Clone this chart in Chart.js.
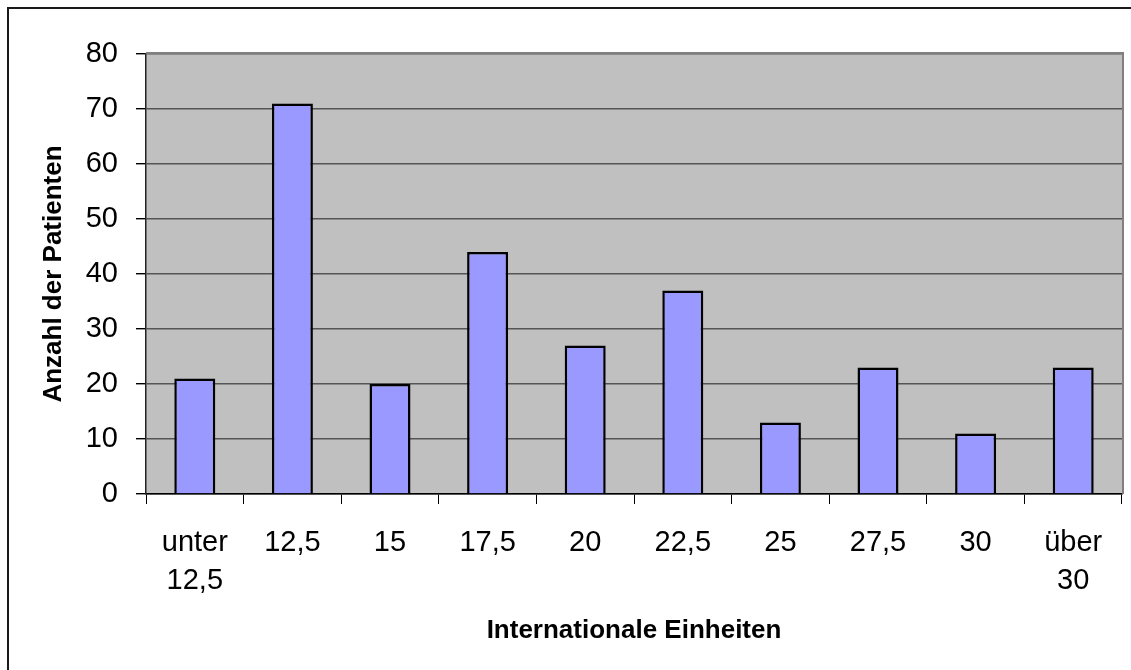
<!DOCTYPE html>
<html>
<head>
<meta charset="utf-8">
<script src="https://cdn.jsdelivr.net/npm/chart.js@4/dist/chart.umd.min.js"></script>
<style>
  html, body { margin: 0; padding: 0; background: #ffffff; }
  #wrap { position: relative; width: 1131px; height: 670px; overflow: hidden; }
  canvas { display: block; }
</style>
</head>
<body>
<div id="wrap"><canvas id="chart" width="1131" height="670"></canvas></div>
<script>
// Dosage classes (international units) and number of patients per class
const categories = [
  ['unter', '12,5'], '12,5', '15', '17,5', '20', '22,5', '25', '27,5', '30', ['über', '30']
];
const patients = [21, 71, 20, 44, 27, 37, 13, 23, 11, 23];
const yTicks = { min: 0, max: 80, step: 10 };

const FONT = "'Liberation Sans', Arial, sans-serif";

// Page frame, grey plot background and grey plot border
const frame = {
  id: 'frame',
  beforeDraw(chart) {
    const { ctx, chartArea: a } = chart;
    ctx.save();
    ctx.fillStyle = '#ffffff';
    ctx.fillRect(0, 0, chart.width, chart.height);
    ctx.strokeStyle = '#1a1a1a';
    ctx.lineWidth = 2;
    ctx.strokeRect(8, 8, chart.width + 100, chart.height + 100);
    ctx.fillStyle = '#c0c0c0';
    ctx.fillRect(a.left, a.top, a.right - a.left, a.bottom - a.top);
    ctx.restore();
  },
  beforeDatasetsDraw(chart) {
    const { ctx, chartArea: a } = chart;
    ctx.save();
    ctx.strokeStyle = '#808080';
    ctx.lineWidth = 2;
    ctx.beginPath();
    ctx.moveTo(a.left, a.top - 1);
    ctx.lineTo(a.right + 1, a.top - 1);
    ctx.lineTo(a.right + 1, a.bottom);
    ctx.stroke();
    ctx.restore();
  }
};

new Chart(document.getElementById('chart'), {
  type: 'bar',
  data: {
    labels: categories,
    datasets: [{
      data: patients,
      backgroundColor: '#9999ff',
      borderColor: '#000000',
      borderWidth: 2.5,
      categoryPercentage: 1,
      barPercentage: 0.42
    }]
  },
  options: {
    responsive: false,
    animation: false,
    layout: { padding: { left: 0, top: 54, right: 9, bottom: 0 } },
    plugins: { legend: { display: false }, tooltip: { enabled: false } },
    scales: {
      x: {
        grid: {
          drawOnChartArea: false,
          drawTicks: true,
          tickLength: 10,
          tickColor: '#000000',
          offset: true
        },
        border: { display: true, color: '#000000', width: 1.5 },
        ticks: {
          color: '#000000',
          font: { family: FONT, size: 29, lineHeight: 1.31 },
          padding: 20,
          maxRotation: 0,
          autoSkip: false
        },
        title: {
          display: true,
          text: 'Internationale Einheiten',
          color: '#000000',
          font: { family: FONT, size: 26, weight: 'bold' },
          padding: { top: 0, bottom: 24 }
        },
        afterFit(scale) { scale.height = 176; }
      },
      y: {
        min: yTicks.min,
        max: yTicks.max,
        grid: {
          color: '#555555',
          lineWidth: 1.4,
          drawTicks: true,
          tickLength: 10,
          tickColor: '#000000'
        },
        border: { display: true, color: '#222222', width: 1.5 },
        ticks: {
          stepSize: yTicks.step,
          color: '#000000',
          font: { family: FONT, size: 29 },
          padding: 18
        },
        title: {
          display: true,
          text: 'Anzahl der Patienten',
          color: '#000000',
          font: { family: FONT, size: 26, weight: 'bold' },
          padding: { top: 38, bottom: 0 }
        },
        afterFit(scale) { scale.width = 146; }
      }
    }
  },
  plugins: [frame]
});
</script>
</body>
</html>
